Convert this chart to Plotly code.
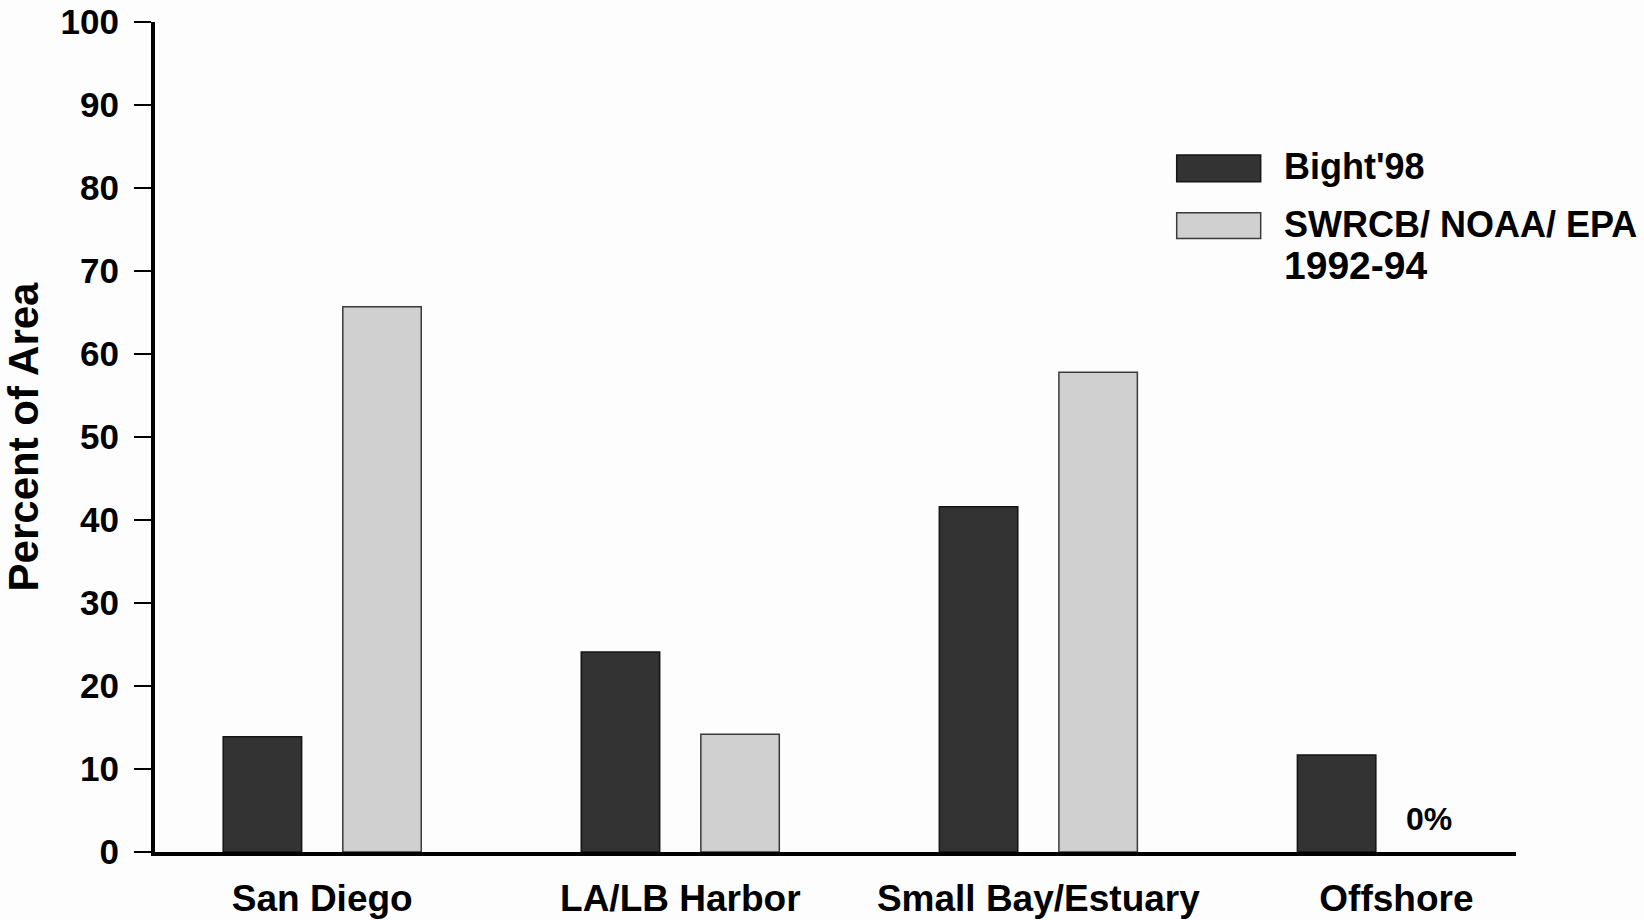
import plotly.graph_objects as go

# Percent of area by region for the two surveys
regions = ["San Diego", "LA/LB Harbor", "Small Bay/Estuary", "Offshore"]
bight98 = [13.9, 24.1, 41.6, 11.7]
swrcb_noaa_epa = [65.7, 14.2, 57.8, 0]

y_ticks = [0, 10, 20, 30, 40, 50, 60, 70, 80, 90, 100]

DARK = "#333333"
LIGHT = "#d0d0d0"
FONT = "Liberation Sans, Arial, Helvetica, sans-serif"


def bold(size):
    return dict(family=FONT, size=size, color="black", weight="bold")


def outline(values):
    # no outline on empty bars so nothing shows along the baseline
    return [1.5 if v > 0 else 0 for v in values]


fig = go.Figure()
fig.add_trace(go.Bar(
    x=regions, y=bight98, name="Bight'98",
    marker=dict(color=DARK, line=dict(color="#151515", width=outline(bight98))),
))
fig.add_trace(go.Bar(
    x=regions, y=swrcb_noaa_epa, name="SWRCB/ NOAA/ EPA 1992-94",
    marker=dict(color=LIGHT, line=dict(color="#3a3a3a", width=outline(swrcb_noaa_epa))),
))

# Legend drawn as wide swatches with labels beside them
swatches = [
    (DARK, "#151515", 0.8398, 0.8076),
    (LIGHT, "#3a3a3a", 0.7702, 0.7393),
]
for fill, edge, y1, y0 in swatches:
    fig.add_shape(type="rect", xref="paper", yref="paper",
                  x0=0.7507, x1=0.8124, y0=y0, y1=y1,
                  fillcolor=fill, line=dict(color=edge, width=1.5))

legend_lines = [
    ("Bight'98", 0.8265, 36),
    ("SWRCB/ NOAA/ EPA", 0.7560, 36),
    ("1992-94", 0.7070, 39),
]
for text, y, size in legend_lines:
    fig.add_annotation(xref="paper", yref="paper", x=0.8279, y=y,
                       xanchor="left", yanchor="middle", showarrow=False,
                       text=text, font=bold(size))

# Zero-value label for the offshore survey bar
fig.add_annotation(xref="paper", yref="paper", x=0.936, y=0.0393,
                   xanchor="center", yanchor="middle", showarrow=False,
                   text=f"{swrcb_noaa_epa[3]:g}%", font=bold(32))

fig.update_layout(
    width=1644, height=920,
    margin=dict(l=155, r=128, t=22, b=68),
    paper_bgcolor="#fdfdfd", plot_bgcolor="#fdfdfd",
    barmode="group", bargap=0.332, bargroupgap=0.344,
    showlegend=False,
    font=bold(35),
)
fig.update_xaxes(
    range=[-0.467, 3.334], automargin=False,
    showline=True, linecolor="black", linewidth=4,
    showgrid=False, zeroline=False, ticks="",
    ticklabelstandoff=11,
    tickfont=bold(37),
)
fig.update_yaxes(
    range=[0, 100], tickvals=y_ticks, automargin=False,
    showline=True, linecolor="black", linewidth=4,
    showgrid=False, zeroline=False,
    ticks="outside", ticklen=17, tickwidth=1.5, tickcolor="black",
    ticklabelstandoff=8,
    tickfont=bold(35),
    title=dict(text="Percent of Area", standoff=18, font=bold(42)),
)

fig.write_html("out.html")
